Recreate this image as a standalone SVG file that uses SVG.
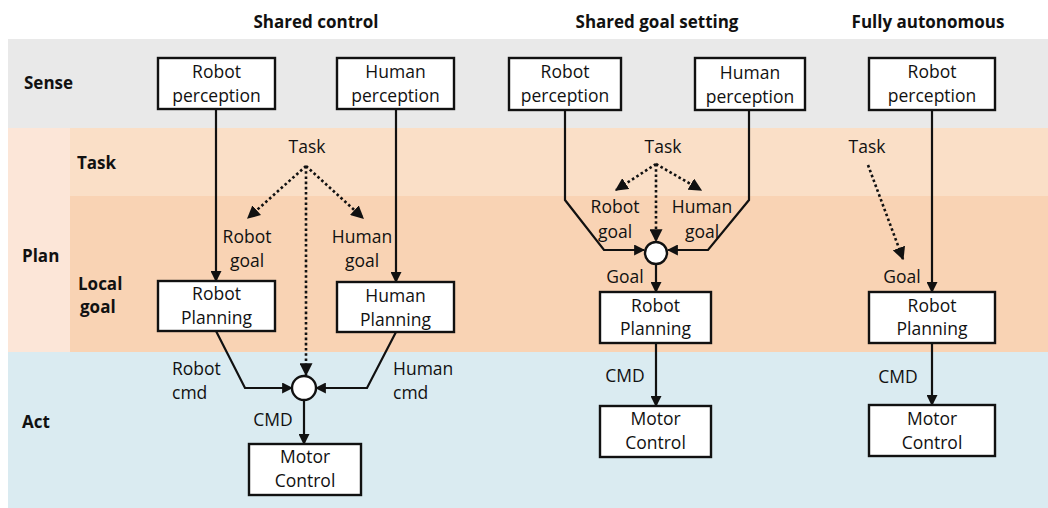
<svg xmlns="http://www.w3.org/2000/svg" width="1048" height="508" viewBox="0 0 1048 508">
<style>
text{font-family:"Open Sans","Liberation Sans",sans-serif;fill:#111}
.t{font-size:17.5px;text-anchor:middle}
.l{font-size:17.5px}
.b{font-size:17px;font-weight:bold}
.h{font-size:17px;font-weight:bold;text-anchor:middle}
.box{fill:#fff;stroke:#111;stroke-width:2.4}
.ln{fill:none;stroke:#111;stroke-width:2.2}
.dot{fill:none;stroke:#111;stroke-width:2.6;stroke-dasharray:2.6 2.6}
.arr{marker-end:url(#ah)}
</style>
<defs>
<marker id="ah" viewBox="0 0 10 10" refX="9" refY="5" markerWidth="5" markerHeight="5" markerUnits="strokeWidth" orient="auto">
<path d="M0,0 L10,5 L0,10 z" fill="#111"/>
</marker>
</defs>
<rect width="1048" height="508" fill="#fff"/>
<g id="bands">
<rect x="8" y="39" width="1040" height="89" fill="#E9E9E9"/>
<rect x="8" y="128" width="62" height="224" fill="#FCE6D8"/>
<rect x="70" y="128" width="978" height="68" fill="#FADFC7"/>
<rect x="70" y="196" width="978" height="156" fill="#F9D3B4"/>
<rect x="8" y="352" width="1040" height="156" fill="#DAEBF1"/>
</g>
<g id="titles">
<text class="h" x="316" y="28">Shared control</text>
<text class="h" x="657" y="28">Shared goal setting</text>
<text class="h" x="928" y="28">Fully autonomous</text>
<text class="b" x="24" y="89">Sense</text>
<text class="b" x="77" y="169">Task</text>
<text class="b" x="22" y="262">Plan</text>
<text class="b" x="78" y="290">Local</text>
<text class="b" x="80" y="313">goal</text>
<text class="b" x="22" y="428">Act</text>
</g>
<g id="connectors">
<!-- shared control -->
<line class="ln arr" x1="216" y1="109" x2="216" y2="281"/>
<line class="ln arr" x1="396" y1="109" x2="396" y2="282"/>
<polyline class="ln arr" points="216,331 245,388 292,388"/>
<polyline class="ln arr" points="396,332 367,388 316,388"/>
<line class="ln arr" x1="304" y1="400" x2="304" y2="444"/>
<line class="dot arr" x1="306" y1="166" x2="248" y2="218"/>
<line class="dot arr" x1="306" y1="166" x2="363" y2="218"/>
<line class="dot arr" x1="306" y1="166" x2="306" y2="375"/>
<!-- shared goal setting -->
<polyline class="ln arr" points="565,110 565,200 604,250 644,250"/>
<polyline class="ln arr" points="749,110 749,200 708,250 668,250"/>
<line class="ln arr" x1="656" y1="264" x2="656" y2="292"/>
<line class="ln arr" x1="656" y1="343" x2="656" y2="406"/>
<line class="dot arr" x1="656" y1="164" x2="616" y2="190"/>
<line class="dot arr" x1="656" y1="164" x2="701" y2="190"/>
<line class="dot arr" x1="656" y1="164" x2="656" y2="241"/>
<!-- fully autonomous -->
<line class="ln arr" x1="932" y1="110" x2="932" y2="292"/>
<line class="ln arr" x1="932" y1="343" x2="932" y2="405"/>
<line class="dot arr" x1="868" y1="165" x2="903" y2="259"/>
</g>
<g id="labels">
<text class="t" x="307" y="153">Task</text>
<text class="t" x="247" y="243">Robot</text>
<text class="t" x="247" y="267">goal</text>
<text class="t" x="362" y="243">Human</text>
<text class="t" x="362" y="267">goal</text>
<text class="l" x="172" y="375">Robot</text>
<text class="l" x="172" y="399">cmd</text>
<text class="l" x="393" y="375">Human</text>
<text class="l" x="393" y="399">cmd</text>
<text class="t" x="273" y="426">CMD</text>
<text class="t" x="663" y="153">Task</text>
<text class="t" x="615" y="213">Robot</text>
<text class="t" x="615" y="238">goal</text>
<text class="t" x="702" y="213">Human</text>
<text class="t" x="702" y="238">goal</text>
<text class="t" x="625" y="283">Goal</text>
<text class="t" x="625" y="382">CMD</text>
<text class="t" x="867" y="153">Task</text>
<text class="t" x="902" y="283">Goal</text>
<text class="t" x="898" y="383">CMD</text>
</g>
<g id="sc-robot-perception"><rect class="box" x="158" y="58" width="117" height="51"/><text class="t" x="216.5" y="78">Robot</text><text class="t" x="216.5" y="102">perception</text></g>
<g id="sc-human-perception"><rect class="box" x="337" y="58" width="117" height="51"/><text class="t" x="395.5" y="78">Human</text><text class="t" x="395.5" y="102">perception</text></g>
<g id="sc-robot-planning"><rect class="box" x="158" y="281" width="117" height="50"/><text class="t" x="216.5" y="300">Robot</text><text class="t" x="216.5" y="324">Planning</text></g>
<g id="sc-human-planning"><rect class="box" x="337" y="282" width="117" height="50"/><text class="t" x="395.5" y="302">Human</text><text class="t" x="395.5" y="326">Planning</text></g>
<g id="sc-mix"><circle cx="304" cy="388" r="12" fill="#fff" stroke="#111" stroke-width="2.4"/></g>
<g id="sc-motor-control"><rect class="box" x="249" y="444" width="112" height="51"/><text class="t" x="305" y="463">Motor</text><text class="t" x="305" y="487">Control</text></g>
<g id="sg-robot-perception"><rect class="box" x="509" y="58" width="112" height="52"/><text class="t" x="565" y="78">Robot</text><text class="t" x="565" y="102">perception</text></g>
<g id="sg-human-perception"><rect class="box" x="695" y="58" width="110" height="52"/><text class="t" x="750" y="79">Human</text><text class="t" x="750" y="103">perception</text></g>
<g id="sg-mix"><circle cx="656" cy="253" r="11" fill="#fff" stroke="#111" stroke-width="2.4"/></g>
<g id="sg-robot-planning"><rect class="box" x="600" y="292" width="111" height="51"/><text class="t" x="655.5" y="312">Robot</text><text class="t" x="655.5" y="335">Planning</text></g>
<g id="sg-motor-control"><rect class="box" x="600" y="406" width="111" height="51"/><text class="t" x="655.5" y="425">Motor</text><text class="t" x="655.5" y="449">Control</text></g>
<g id="fa-robot-perception"><rect class="box" x="869" y="58" width="126" height="52"/><text class="t" x="932" y="78">Robot</text><text class="t" x="932" y="102">perception</text></g>
<g id="fa-robot-planning"><rect class="box" x="869" y="292" width="126" height="51"/><text class="t" x="932" y="312">Robot</text><text class="t" x="932" y="335">Planning</text></g>
<g id="fa-motor-control"><rect class="box" x="869" y="405" width="126" height="51"/><text class="t" x="932" y="425">Motor</text><text class="t" x="932" y="449">Control</text></g>
</svg>
